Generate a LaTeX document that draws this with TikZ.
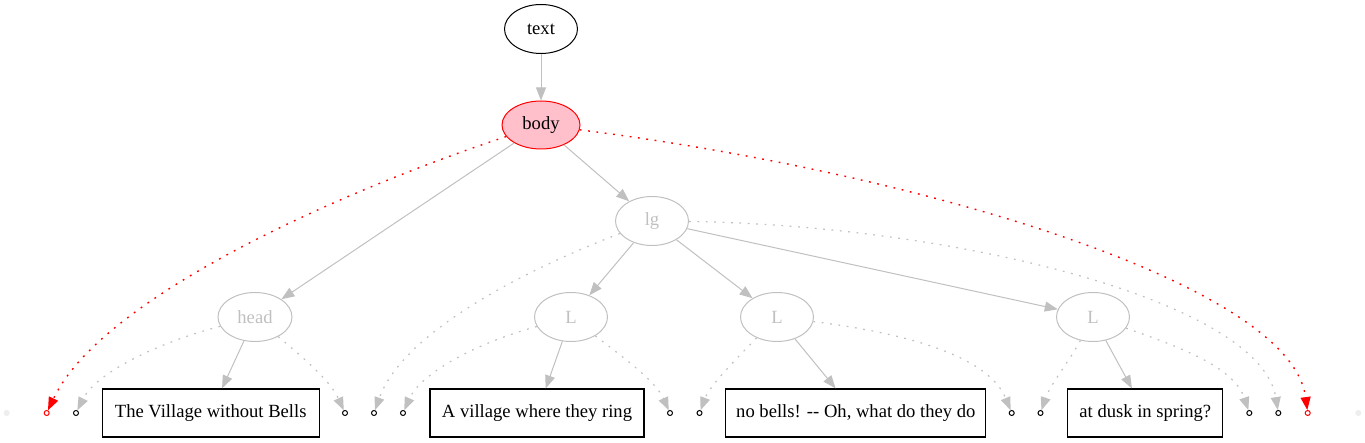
\documentclass[tikz,border=0pt]{standalone}
\usepackage{fontspec}
\setmainfont{Liberation Serif}
\usetikzlibrary{arrows.meta, positioning, shapes.geometric}
\definecolor{silver}{HTML}{C0C0C0}
\definecolor{pinkfill}{HTML}{FFC0CB}
\definecolor{ghost}{HTML}{EEEEEE}

\begin{document}
\begin{tikzpicture}[x=1pt, y=-1pt, font=\fontsize{18.6}{22}\selectfont,
    elem/.style={draw, ellipse, line width=1pt, inner sep=0pt,
        minimum width=73pt, minimum height=49pt},
    faded/.style={elem, draw=silver, text=silver},
    txtbox/.style={draw, rectangle, line width=1.2pt, inner sep=0pt,
        minimum height=48pt},
    pnt/.style={draw, circle, line width=1pt, fill=white, inner sep=0pt,
        minimum size=5pt},
    child/.style={draw=silver, line width=1pt,
        -{Triangle[length=13pt, width=10pt]}},
    attr/.style={child, line width=1.2pt, dash pattern=on 1.8pt off 6.6pt},
    redlink/.style={attr, draw=red, line width=1.4pt}]
\useasboundingbox (0,0) rectangle (1365,443);

% tree nodes
\node[elem] (text) at (541,29) {text};
\node[elem, fill=pinkfill, draw=red, minimum width=78pt,
    minimum height=48pt] (body) at (541,125) {body};
\node[faded] (lg) at (652,221) {lg};
\node[faded, minimum width=74pt] (head) at (255,317) {head};
\node[faded] (l1) at (571,317) {L};
\node[faded] (l2) at (777,317) {L};
\node[faded] (l3) at (1093,317) {L};

% text leaves
\node[txtbox, minimum width=217pt] (t1) at (210.7,413)
    {The Village without Bells};
\node[txtbox, minimum width=214pt] (t2) at (537,413)
    {A village where they ring};
\node[txtbox, minimum width=260pt] (t3) at (855.8,413)
    {no bells! \mbox{-}\mbox{-} Oh, what do they do};
\node[txtbox, minimum width=155pt] (t4) at (1145.3,413)
    {at dusk in spring?};

% attribute points
\node[pnt, draw=ghost, fill=ghost] (g0) at (6.7,413) {};
\node[pnt, draw=red] (r0) at (46.7,413) {};
\foreach \n/\x in {1/76, 2/345, 3/374, 4/403, 5/670, 6/699.5,
    7/1011.7, 8/1040.5, 9/1249.3, 10/1278.3}
    \node[pnt] (p\n) at (\x,413) {};
\node[pnt, draw=red] (r1) at (1307.7,413) {};
\node[pnt, draw=ghost, fill=ghost] (g1) at (1358.3,413) {};

\draw[child] (text) -- (body);
\draw[child] (body) -- (head);
\draw[child] (body) -- (lg);
\draw[child] (lg) -- (l1);
\draw[child] (lg) -- (l2);
\draw[child] (lg) -- (l3);
\draw[child] (head) -- (t1);
\draw[child] (l1) -- (t2);
\draw[child] (l2) -- (t3);
\draw[child] (l3) -- (t4);

\draw[redlink] (body) .. controls (330,195) and (100,300) .. (r0);
\draw[redlink] (body) .. controls (900,170) and (1290,280) .. (r1);
\draw[attr] (lg) .. controls (500,280) and (400,340) .. (p3);
\draw[attr] (lg) .. controls (950,225) and (1260,300) .. (p10);
\draw[attr] (head) .. controls (150,345) and (95,375) .. (p1);
\draw[attr] (head) .. controls (300,355) and (330,380) .. (p2);
\draw[attr] (l1) .. controls (470,345) and (420,375) .. (p4);
\draw[attr] (l1) .. controls (620,355) and (655,380) .. (p5);
\draw[attr] (l2) .. controls (740,355) and (710,385) .. (p6);
\draw[attr] (l2) .. controls (920,335) and (990,360) .. (p7);
\draw[attr] (l3) .. controls (1070,360) and (1050,385) .. (p8);
\draw[attr] (l3) .. controls (1190,350) and (1235,370) .. (p9);
\end{tikzpicture}
\end{document}
